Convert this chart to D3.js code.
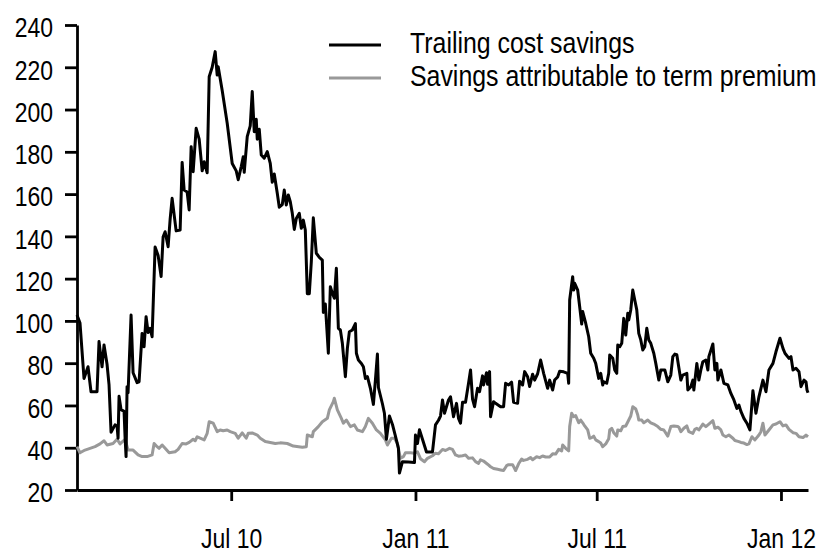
<!DOCTYPE html>
<html>
<head>
<meta charset="utf-8">
<script src="https://cdn.jsdelivr.net/npm/d3@7"></script>
<style>
  body { margin: 0; background: #fff; }
  svg text { font-family: "Liberation Sans", Arial, sans-serif; fill: #000; }
</style>
</head>
<body>
<div class="container"></div>
<script>
const width = 821;
const height = 553;
const narrow = 0.82; // squeeze text to look like Arial Narrow

const seriesNames = ['Trailing cost savings', 'Savings attributable to term premium'];
const yTicks = [20, 40, 60, 80, 100, 120, 140, 160, 180, 200, 220, 240];
const xTicks = ['2010-07-01', '2011-01-01', '2011-07-01', '2012-01-01'];
const xTickLabels = ['Jul 10', 'Jan 11', 'Jul 11', 'Jan 12'];

const blackDates = [
  '2010-01-28','2010-01-31','2010-02-04','2010-02-08','2010-02-11','2010-02-17','2010-02-19','2010-02-22','2010-02-24','2010-02-27',
  '2010-03-01','2010-03-03','2010-03-07','2010-03-09','2010-03-10','2010-03-11','2010-03-13','2010-03-16','2010-03-17','2010-03-18',
  '2010-03-19','2010-03-20','2010-03-23','2010-03-25','2010-03-29','2010-03-31','2010-04-03','2010-04-05','2010-04-07','2010-04-09',
  '2010-04-11','2010-04-13','2010-04-16','2010-04-19','2010-04-22','2010-04-24','2010-04-26','2010-04-29','2010-05-01','2010-05-03',
  '2010-05-07','2010-05-11','2010-05-13','2010-05-15','2010-05-18','2010-05-20','2010-05-22','2010-05-24','2010-05-27','2010-05-30',
  '2010-06-02','2010-06-04','2010-06-07','2010-06-09','2010-06-12','2010-06-15','2010-06-17','2010-06-18','2010-06-22','2010-06-27',
  '2010-07-02','2010-07-06','2010-07-08','2010-07-11','2010-07-13','2010-07-14','2010-07-17','2010-07-20','2010-07-22','2010-07-24',
  '2010-07-26','2010-07-27','2010-07-29','2010-07-31','2010-08-03','2010-08-06','2010-08-09','2010-08-11','2010-08-13','2010-08-16',
  '2010-08-18','2010-08-21','2010-08-23','2010-08-25','2010-08-27','2010-08-29','2010-08-31','2010-09-02','2010-09-04','2010-09-07',
  '2010-09-09','2010-09-11','2010-09-13','2010-09-15','2010-09-17','2010-09-19','2010-09-21','2010-09-24','2010-09-27','2010-09-30',
  '2010-10-01','2010-10-03','2010-10-06','2010-10-08','2010-10-10','2010-10-12','2010-10-14','2010-10-16','2010-10-18','2010-10-20',
  '2010-10-23','2010-10-25','2010-10-27','2010-10-30','2010-11-02','2010-11-03','2010-11-05','2010-11-08','2010-11-10','2010-11-12',
  '2010-11-14','2010-11-17','2010-11-20','2010-11-22','2010-11-24','2010-11-25','2010-11-29','2010-12-01','2010-12-03','2010-12-06',
  '2010-12-09','2010-12-12','2010-12-15','2010-12-16','2010-12-19','2010-12-25','2010-12-31','2011-01-01','2011-01-03','2011-01-05',
  '2011-01-08','2011-01-12','2011-01-18','2011-01-21','2011-01-24','2011-01-26','2011-01-28','2011-01-30','2011-02-03','2011-02-05',
  '2011-02-08','2011-02-11','2011-02-13','2011-02-15','2011-02-17','2011-02-20','2011-02-23','2011-02-25','2011-02-27','2011-03-01',
  '2011-03-04','2011-03-06','2011-03-09','2011-03-10','2011-03-13','2011-03-14','2011-03-16','2011-03-17','2011-03-20','2011-03-22',
  '2011-03-27','2011-03-30','2011-04-01','2011-04-04','2011-04-07','2011-04-09','2011-04-13','2011-04-15','2011-04-18','2011-04-20',
  '2011-04-23','2011-04-25','2011-04-28','2011-04-30','2011-05-03','2011-05-06','2011-05-09','2011-05-13','2011-05-15','2011-05-18',
  '2011-05-20','2011-05-23','2011-05-25','2011-05-29','2011-06-02','2011-06-03','2011-06-04','2011-06-07','2011-06-08','2011-06-09',
  '2011-06-12','2011-06-14','2011-06-16','2011-06-17','2011-06-20','2011-06-23','2011-06-25','2011-06-28','2011-06-30','2011-07-03',
  '2011-07-05','2011-07-07','2011-07-08','2011-07-11','2011-07-13','2011-07-14','2011-07-17','2011-07-19','2011-07-21','2011-07-22',
  '2011-07-24','2011-07-26','2011-07-28','2011-07-30','2011-08-01','2011-08-02','2011-08-04','2011-08-06','2011-08-08','2011-08-10',
  '2011-08-12','2011-08-14','2011-08-16','2011-08-18','2011-08-20','2011-08-22','2011-08-24','2011-08-27','2011-08-29','2011-09-01',
  '2011-09-03','2011-09-07','2011-09-10','2011-09-13','2011-09-15','2011-09-17','2011-09-19','2011-09-21','2011-09-23','2011-09-25',
  '2011-09-29','2011-09-30','2011-10-03','2011-10-05','2011-10-06','2011-10-09','2011-10-11','2011-10-13','2011-10-15','2011-10-18',
  '2011-10-20','2011-10-21','2011-10-25','2011-10-27','2011-10-29','2011-10-30','2011-11-02','2011-11-05','2011-11-09','2011-11-12',
  '2011-11-15','2011-11-18','2011-11-20','2011-11-22','2011-11-25','2011-11-28','2011-12-01','2011-12-04','2011-12-07','2011-12-10',
  '2011-12-14','2011-12-17','2011-12-20','2011-12-24','2011-12-27','2011-12-31','2012-01-03','2012-01-05','2012-01-09','2012-01-11',
  '2012-01-13','2012-01-16','2012-01-19','2012-01-21','2012-01-24','2012-01-26','2012-01-27','2012-01-28'
];
const blackValues = [
  102.8,99,72.8,78.3,66.5,66.5,90.2,78.3,88.6,79.5,
  69.7,47.3,50.8,50.3,44.5,64.3,58,57.2,45,35.8,
  68.9,66,102.8,75.5,70.8,71.2,94.1,87.8,102,94.5,
  96.5,92.5,135,131,121,139.8,142.2,135.1,148,158,
  142.6,143,175,161.9,161,152.5,182.4,170.6,191.1,186,
  171,175.3,170.1,215.5,220,227.4,216.3,220.3,209,193.5,
  174.5,171,166.8,173,177.7,170.3,187.2,192.3,208.5,189.5,
  195.4,186,190.7,178.5,177,180.1,174.5,165.6,169.5,160.4,
  153.8,155,161.9,154.8,159.6,156.4,150.9,143.3,148.5,150.9,
  143.8,147.7,143,112.9,112.9,128,148.8,132,130.1,128.8,
  104,108,84.7,116.2,113.1,110.7,124.9,96.5,95.7,89.4,
  73.6,87,94.9,95.7,98.7,84.7,81.5,79.9,78.3,72.8,
  73.6,68.1,60.5,72,84.3,68.5,60.8,56.3,44,55,
  51,45.5,39.7,28,33.4,33.2,33,46,42,48.5,
  44,38,38,50.8,53,55,62.6,56.3,62.6,64.1,
  54.7,61,53.9,51.6,61.5,61.5,70.5,76.8,63,59.4,
  68.1,66.5,74,69.7,75.5,70,76,54.7,61.8,61,
  59.4,59.4,70.5,69.7,71,61.5,61,71.5,69.7,76,
  73.6,69,74.8,72,75,81.5,75.2,68.1,72,67.3,
  72,73.5,76.2,75.9,75.2,70.5,109.9,120.9,114.6,117.8,
  114.6,106.7,98.5,104.4,98.9,92.5,84.7,82.3,79.9,72.8,
  75.2,69.7,71.2,70.5,75.2,83.9,82.3,76.8,75.2,88.6,
  87.8,89.4,101.2,93.3,103.6,100.4,105.2,114.6,109.9,105.2,
  94.1,91,86.2,87.8,96.5,91,89.4,84.7,79.9,72,
  76.8,76.8,71.2,74.4,83.1,84.3,84,78,72,74.4,
  75.2,67.3,68.9,72,67.3,79.9,72,76.8,80.7,81.5,
  76.8,83.1,89.1,76.8,79.9,72,76.8,70.5,69.7,65.7,
  62.6,58.6,60.2,57.2,53.9,51.6,48.4,67,56.3,64.1,
  72,66.5,76.8,79.9,85.4,91.8,87,84.7,82.3,83.1,
  76.8,77.6,76,68.9,72,71.2,67.3,66
];

const grayDates = [
  '2010-01-28','2010-01-31','2010-02-05','2010-02-10','2010-02-15','2010-02-20','2010-02-24','2010-02-27','2010-03-05','2010-03-09',
  '2010-03-12','2010-03-17','2010-03-20','2010-03-25','2010-03-30','2010-04-03','2010-04-08','2010-04-13','2010-04-15','2010-04-18',
  '2010-04-20','2010-04-23','2010-04-26','2010-04-30','2010-05-06','2010-05-09','2010-05-13','2010-05-17','2010-05-20','2010-05-24',
  '2010-05-26','2010-05-28','2010-05-31','2010-06-04','2010-06-07','2010-06-09','2010-06-13','2010-06-17','2010-06-20','2010-06-23',
  '2010-06-27','2010-06-30','2010-07-05','2010-07-08','2010-07-12','2010-07-16','2010-07-18','2010-07-22','2010-07-27','2010-07-30',
  '2010-08-04','2010-08-09','2010-08-14','2010-08-19','2010-08-26','2010-09-01','2010-09-10','2010-09-14','2010-09-15','2010-09-20',
  '2010-09-21','2010-09-26','2010-09-30','2010-10-05','2010-10-07','2010-10-11','2010-10-12','2010-10-15','2010-10-19','2010-10-21',
  '2010-10-24','2010-10-28','2010-11-01','2010-11-04','2010-11-09','2010-11-12','2010-11-15','2010-11-19','2010-11-23','2010-11-27',
  '2010-12-02','2010-12-04','2010-12-08','2010-12-11','2010-12-14','2010-12-17','2010-12-20','2010-12-22','2010-12-27','2010-12-31',
  '2011-01-03','2011-01-06','2011-01-10','2011-01-13','2011-01-18','2011-01-21','2011-01-24','2011-01-28','2011-01-31','2011-02-04',
  '2011-02-07','2011-02-10','2011-02-13','2011-02-17','2011-02-20','2011-02-23','2011-02-27','2011-03-02','2011-03-05','2011-03-07',
  '2011-03-10','2011-03-14','2011-03-17','2011-03-20','2011-03-24','2011-03-27','2011-03-30','2011-04-02','2011-04-04','2011-04-08',
  '2011-04-11','2011-04-14','2011-04-17','2011-04-19','2011-04-23','2011-04-26','2011-04-28','2011-05-02','2011-05-05','2011-05-08',
  '2011-05-11','2011-05-15','2011-05-18','2011-05-21','2011-05-24','2011-05-27','2011-05-28','2011-05-31','2011-06-03','2011-06-04',
  '2011-06-06','2011-06-08','2011-06-10','2011-06-13','2011-06-15','2011-06-17','2011-06-19','2011-06-22','2011-06-24','2011-06-26',
  '2011-06-28','2011-06-30','2011-07-03','2011-07-05','2011-07-07','2011-07-10','2011-07-13','2011-07-14','2011-07-16','2011-07-18',
  '2011-07-21','2011-07-22','2011-07-25','2011-07-27','2011-07-30','2011-08-02','2011-08-04','2011-08-06','2011-08-09','2011-08-11',
  '2011-08-12','2011-08-15','2011-08-17','2011-08-21','2011-08-24','2011-08-27','2011-08-31','2011-09-03','2011-09-06','2011-09-10',
  '2011-09-13','2011-09-16','2011-09-20','2011-09-21','2011-09-23','2011-09-26','2011-09-29','2011-10-01','2011-10-05','2011-10-07',
  '2011-10-09','2011-10-11','2011-10-15','2011-10-18','2011-10-21','2011-10-25','2011-10-27','2011-10-30','2011-11-02','2011-11-04',
  '2011-11-07','2011-11-10','2011-11-14','2011-11-16','2011-11-20','2011-11-22','2011-11-25','2011-11-28','2011-11-30','2011-12-03',
  '2011-12-06','2011-12-10','2011-12-12','2011-12-14','2011-12-16','2011-12-20','2011-12-24','2011-12-27','2011-12-31','2012-01-03',
  '2012-01-06','2012-01-09','2012-01-13','2012-01-16','2012-01-19','2012-01-23','2012-01-26','2012-01-28'
];
const grayValues = [
  40.5,37.6,38.9,39.7,40.5,41.8,43.3,41.3,42,44,
  41.8,44,38.9,38.9,36.6,35.8,35.8,36.6,42,40.5,
  39.7,41.3,39.7,37.6,38.1,39.2,42,41.8,42.5,44,
  43.3,45.2,44.5,43.7,46.8,52.3,51.6,47.6,48.4,48,
  48.4,47.6,46.8,44.5,47,44.5,46.8,47,46,44.5,
  42.9,42.5,42,42.3,42,40.8,40.2,40.5,46,45.2,
  47.6,50,52.3,53.9,57.9,61.8,63.4,57.9,53.9,51.6,
  53.1,50,50.8,48.4,47.6,50,53.9,51.6,48.4,46.8,
  43.7,41.3,44.5,44.5,42,35,35.8,37.6,37.6,37.4,
  38.1,34.8,33.4,35,36.2,37.4,37.1,39.2,38.7,39.7,
  39.2,36.6,36,36.2,36.6,35,35.2,33.4,32.6,34.3,
  33.7,32.2,31,30.2,29.8,29.5,29.2,31.5,32,32,
  29.2,32.4,34.6,34,34.5,35.4,34.3,35.7,35.3,36.1,
  35.6,35.6,37.1,37,39.2,38.5,41.3,39.7,38.5,50,
  56.3,54.7,55.2,51.8,53.1,51.8,50.3,48.4,44.5,44.8,
  45.5,43.7,42.9,42.2,40.5,41.8,44.3,48.4,49.2,47.1,
  45.5,48.4,48,50,50.3,53.1,55,59.4,58.3,55.5,
  53.1,53.1,51.8,53.1,51.8,51.2,50,48.7,48.4,45.5,
  50,50.3,50,49.7,47.6,49.2,50.3,47.6,46.8,48.7,
  49.2,48.4,51.2,50,51.2,52.8,49.2,49.7,48.4,46,
  45.2,46,44.5,43.4,42.9,42.5,42.2,41.5,41.8,45.2,
  43.7,46,47.6,51.6,46,48.4,50.8,51.2,52.3,50.3,
  50.8,48.7,47.1,46.8,45.2,44.8,46,45.2
];

const parse = d3.utcParse('%Y-%m-%d');
const black = blackDates.map((d, i) => ({ date: parse(d), value: blackValues[i] }));
const gray = grayDates.map((d, i) => ({ date: parse(d), value: grayValues[i] }));

const svg = d3.select('.container')
  .append('svg')
  .attr('width', width)
  .attr('height', height);

const x = d3.scaleUtc()
  .domain([parse('2010-01-28'), parse('2012-01-28')])
  .range([77, 808]);

const y = d3.scaleLinear()
  .domain([20, 240])
  .range([490, 25]);

// y axis
const yAxis = svg.append('g')
  .attr('transform', 'translate(77,0)')
  .call(d3.axisLeft(y).tickValues(yTicks).tickSize(12).tickSizeOuter(0).tickPadding(12));
yAxis.selectAll('text')
  .attr('x', -24 / narrow)
  .attr('dy', '0.42em')
  .attr('transform', `scale(${narrow},1)`)
  .style('font-size', '28px');

// x axis
const xAxis = svg.append('g')
  .attr('transform', 'translate(0,490)')
  .call(d3.axisBottom(x)
    .tickValues(xTicks.map(parse))
    .tickFormat((d, i) => xTickLabels[i])
    .tickSize(11).tickSizeOuter(0).tickPadding(27));
xAxis.selectAll('text')
  .attr('transform', `scale(${narrow},1)`)
  .style('font-size', '28px');

svg.selectAll('.domain, .tick line')
  .attr('stroke', '#000')
  .attr('stroke-width', 2.8);

const line = d3.line()
  .x(d => x(d.date))
  .y(d => y(d.value));

svg.append('path')
  .datum(gray)
  .attr('fill', 'none')
  .attr('stroke', '#999')
  .attr('stroke-width', 3)
  .attr('stroke-linejoin', 'round')
  .attr('d', line);

svg.append('path')
  .datum(black)
  .attr('fill', 'none')
  .attr('stroke', '#000')
  .attr('stroke-width', 3)
  .attr('stroke-linejoin', 'round')
  .attr('d', line);

// legend
const legend = svg.append('g');
const legendColors = ['#000', '#999'];
legend.selectAll('line')
  .data(seriesNames)
  .join('line')
  .attr('x1', 329)
  .attr('x2', 381)
  .attr('y1', (d, i) => 45 + i * 33)
  .attr('y2', (d, i) => 45 + i * 33)
  .attr('stroke', (d, i) => legendColors[i])
  .attr('stroke-width', 3);

legend.selectAll('text')
  .data(seriesNames)
  .join('text')
  .attr('transform', (d, i) => `translate(410,${53 + i * 33}) scale(0.83,1)`)
  .style('font-size', '30px')
  .text(d => d);
</script>
</body>
</html>
